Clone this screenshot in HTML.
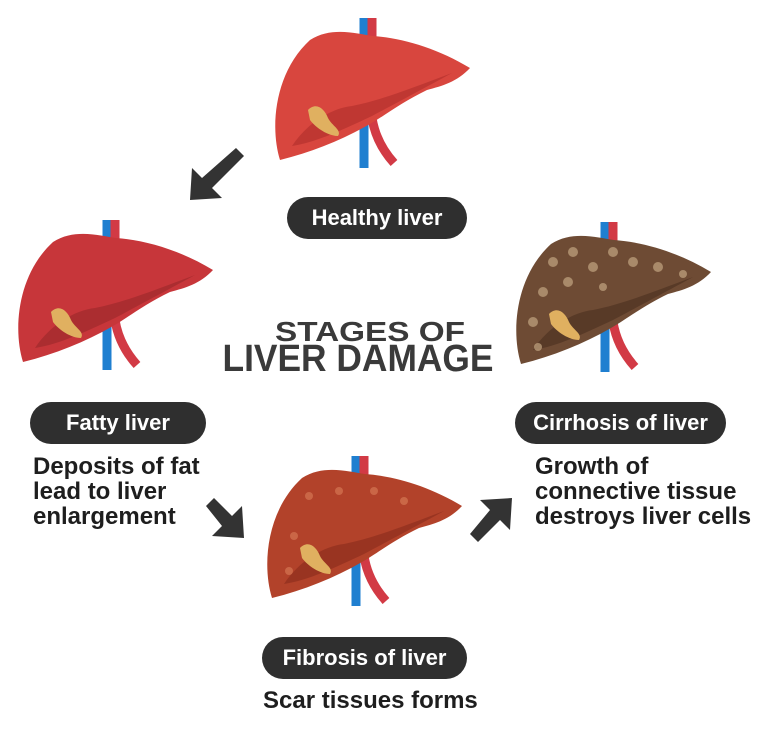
<!DOCTYPE html>
<html><head><meta charset="utf-8"><style>
body{margin:0;background:#fff;}
.w{position:relative;width:768px;height:740px;overflow:hidden;background:#fff;font-family:"Liberation Sans",sans-serif;}
.pill{position:absolute;background:#2f2f2f;color:#fff;font-weight:bold;font-size:22px;border-radius:22px;text-align:center;line-height:42px;height:42px;}
.t{position:absolute;color:#1e1e1e;font-weight:bold;font-size:24px;line-height:25px;white-space:nowrap;}
svg{position:absolute;left:0;top:0;}
</style></head><body><div class="w">
<svg width="768" height="740" viewBox="0 0 768 740">
<defs>
<g id="ves">
<path d="M92 0 L92 150" stroke="#1f7fd0" stroke-width="9" fill="none"/>
<path d="M100 0 L100 100 Q104 125 122 145" stroke="#d23a45" stroke-width="9" fill="none"/>
</g>
<path id="lv" d="M8 142 C-2 110 2 55 38 22 C60 8 85 16 101 18 C130 20 165 30 198 50 C185 64 170 68 155 72 C130 84 112 98 98 106 C70 122 40 134 8 142 Z"/>
<path id="inner" d="M20 128 C35 105 60 90 80 88 C110 82 140 70 180 55 C160 66 130 82 100 98 C70 112 45 124 20 128 Z"/>
<path id="gb" d="M36 92 C44 84 52 90 56 100 C60 108 70 112 66 118 C56 118 44 110 38 102 Z" fill="#e0b060"/>
</defs>
<g transform="translate(272,18)"><use href="#ves"/><use href="#lv" fill="#d8463e"/><use href="#inner" fill="#b5302e" opacity=".7"/><use href="#gb"/></g>
<g transform="translate(15,220)"><use href="#ves"/><use href="#lv" fill="#c7363a"/><use href="#inner" fill="#9f2a2c" opacity=".7"/><use href="#gb"/></g>
<g transform="translate(513,222)"><use href="#ves"/><use href="#lv" fill="#6e4b34"/><use href="#inner" fill="#4e3322" opacity=".7"/><use href="#gb"/>
<g fill="#b89a78" opacity=".8"><circle cx="40" cy="40" r="5"/><circle cx="60" cy="30" r="5"/><circle cx="80" cy="45" r="5"/><circle cx="100" cy="30" r="5"/><circle cx="120" cy="40" r="5"/><circle cx="145" cy="45" r="5"/><circle cx="30" cy="70" r="5"/><circle cx="55" cy="60" r="5"/><circle cx="20" cy="100" r="5"/><circle cx="170" cy="52" r="4"/><circle cx="90" cy="65" r="4"/><circle cx="25" cy="125" r="4"/></g></g>
<g transform="translate(264,456)"><use href="#ves"/><use href="#lv" fill="#b2422a"/><use href="#inner" fill="#8e2f1e" opacity=".7"/><use href="#gb"/>
<g fill="#d0704e" opacity=".8"><circle cx="45" cy="40" r="4"/><circle cx="75" cy="35" r="4"/><circle cx="110" cy="35" r="4"/><circle cx="140" cy="45" r="4"/><circle cx="30" cy="80" r="4"/><circle cx="25" cy="115" r="4"/></g></g>
<g fill="#333">
<path d="M236 148 L244 156 L212 188 L222 198 L190 200 L192 168 L202 178 Z"/>
<path d="M206 506 L214 498 L232 516 L242 506 L244 538 L212 536 L222 526 Z"/>
<path d="M470 534 L478 542 L500 520 L510 530 L512 498 L480 500 L490 510 Z"/>
</g>
<text x="370" y="341" text-anchor="middle" font-family="Liberation Sans" font-weight="bold" font-size="28" fill="#3a3a3a" textLength="190" lengthAdjust="spacingAndGlyphs">STAGES OF</text>
<text x="358" y="371" text-anchor="middle" font-family="Liberation Sans" font-weight="bold" font-size="38" fill="#3a3a3a" textLength="271" lengthAdjust="spacingAndGlyphs">LIVER DAMAGE</text>
</svg>
<div class="pill" style="left:287px;top:197px;width:180px;">Healthy liver</div>
<div class="pill" style="left:30px;top:402px;width:176px;">Fatty liver</div>
<div class="pill" style="left:515px;top:402px;width:211px;">Cirrhosis of liver</div>
<div class="pill" style="left:262px;top:637px;width:205px;">Fibrosis of liver</div>
<div class="t" style="left:33px;top:454px;">Deposits of fat<br>lead to liver<br>enlargement</div>
<div class="t" style="left:535px;top:454px;">Growth of<br>connective tissue<br>destroys liver cells</div>
<div class="t" style="left:263px;top:688px;">Scar tissues forms</div>
</div></body></html>
